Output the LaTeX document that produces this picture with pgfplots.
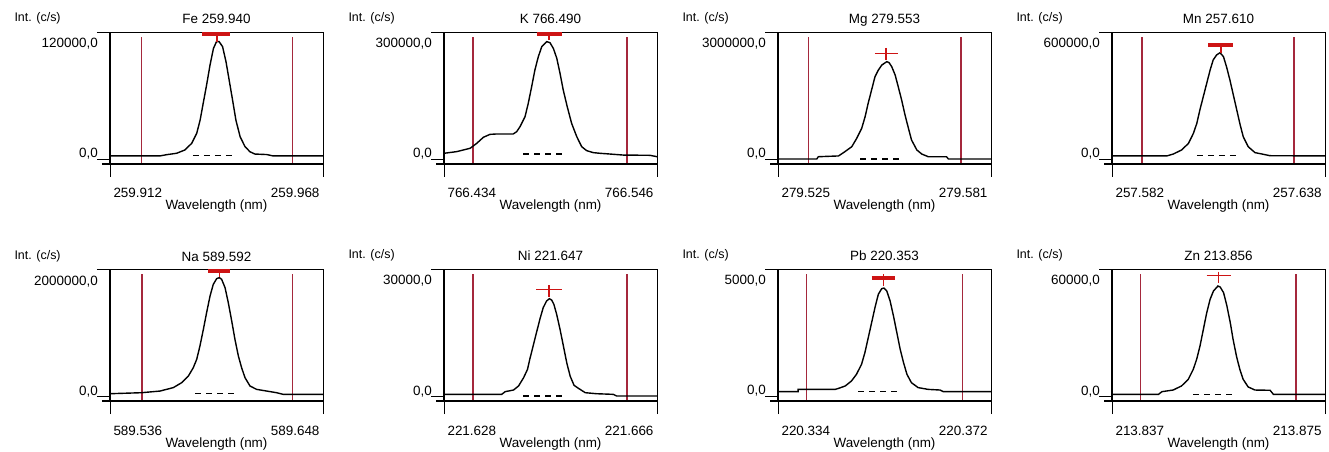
\documentclass[border=0pt]{standalone}
\usepackage{fontspec}
\setmainfont{Liberation Sans}
\usepackage{pgfplots}
\pgfplotsset{compat=1.18}
\definecolor{limred}{RGB}{165,40,60}
\definecolor{mkred}{RGB}{205,20,20}

% x is the offset from the line centre in pm, labels give the wavelength in nm
\pgfplotsset{
  panel/.style={
    scale only axis, width=213bp, height=132bp, anchor=south west,
    clip=false, scaled ticks=false,
    axis line style={line width=0.8bp},
    tick pos=left, tick align=outside, major tick length=13bp,
    every tick/.style={black, line width=0.9bp},
    font=\fontsize{13.5}{15}\selectfont,
    every axis title/.style={at={(0.5,1)}, anchor=base, yshift=8bp},
    every axis x label/.style={at={(0.5,0)}, anchor=base, yshift=-46bp},
    every axis y label/.style={at={(0,1)}, anchor=base west, xshift=-99bp, yshift=10bp, font=\fontsize{12.5}{14}\selectfont},
    xlabel={Wavelength (nm)}, ylabel={Int. (c/s)},
    xticklabel style={anchor=base west, yshift=-21bp},
    extra x tick style={xticklabel style={anchor=base east}},
    yticklabel style={inner sep=0pt, anchor=base east, xshift=1bp, yshift=1bp},
    extra y tick style={yticklabel style={yshift=-17bp}},
    ytick={0}, yticklabels={0{,}0},
    after end axis/.code={
      \draw[line width=2bp] ([xshift=-8bp]rel axis cs:0,0) -- (rel axis cs:1,0);
      \draw[line width=2bp] (rel axis cs:0,0) -- (rel axis cs:0,1);
    },
  },
  spec/.style={black, line width=1.4bp},
  lim/.style={limred, line width=1.8bp},
  bar/.style={mkred, line width=4bp},
  cross/.style={mkred, line width=1.6bp},
  base/.style={black, line width=1.1bp, dash pattern=on 6bp off 5bp},
}

\begin{document}
\begin{tikzpicture}
\useasboundingbox (0,0) rectangle (1329bp,452bp);

% ---------------- Fe 259.940
\begin{axis}[panel, at={(110bp,288bp)}, title={Fe 259.940},
  xmin=-28, xmax=28, ymin=-4724, ymax=120000,
  xtick={-28}, xticklabels={259.912}, extra x ticks={28}, extra x tick labels={259.968},
  extra y ticks={120000}, extra y tick labels={120000{,}0}]
\addplot[lim] coordinates {(-19.7,-4724)(-19.7,115200)};
\addplot[lim] coordinates {(20.0,-4724)(20.0,115200)};
\addplot[spec] coordinates {(-28,2880)(-14.9,2880)(-13.1,4080)(-10.5,5400)(-8.3,8520)(-6.5,14880)(-5.2,24240)(-4.3,36840)(-3.5,52560)(-2.6,69960)(-1.7,88800)(-0.8,104520)(0.0,110880)(0.7,110880)(1.6,106080)(2.5,91920)(3.4,73080)(4.3,54120)(5.1,36840)(6.2,21120)(7.5,11640)(8.8,6840)(10.1,4680)(13.2,4200)(14.9,2880)(28,2880)};
\addplot[base] coordinates {(-6.2,2880)(4.3,2880)};
\addplot[bar] coordinates {(-3.8,118080)(3.6,118080)};
\addplot[cross] coordinates {(0.2,118080)(0.2,111000)};
\end{axis}

% ---------------- K 766.490
\begin{axis}[panel, at={(444bp,288bp)}, title={K 766.490},
  xmin=-56, xmax=56, ymin=-11811, ymax=300000,
  xtick={-56}, xticklabels={766.434}, extra x ticks={56}, extra x tick labels={766.546},
  extra y ticks={300000}, extra y tick labels={300000{,}0}]
\addplot[lim] coordinates {(-40.6,-11811)(-40.6,288000)};
\addplot[lim] coordinates {(40.1,-11811)(40.1,288000)};
\addplot[spec] coordinates {(-56,13500)(-49.3,17400)(-42.3,25200)(-38.8,36900)(-35.3,51300)(-31.8,58200)(-28.3,59100)(-19.6,59100)(-17.8,64500)(-16.0,76500)(-13.4,99900)(-11.7,131400)(-9.9,171000)(-8.2,210300)(-6.4,241800)(-4.6,265200)(-2.0,277200)(-0.3,274800)(1.5,261300)(3.3,237900)(5.0,202500)(6.7,162900)(8.8,123600)(11.1,84300)(13.8,52800)(16.4,29100)(19.0,19800)(22.5,15000)(26.0,13500)(31.3,11700)(38.3,9300)(52.3,8700)(56,5400)};
\addplot[base] coordinates {(-14.3,11700)(8.5,11700)};
\addplot[bar] coordinates {(-7.3,295200)(5.9,295200)};
\addplot[cross] coordinates {(-0.8,295200)(-0.8,280000)};
\end{axis}

% ---------------- Mg 279.553
\begin{axis}[panel, at={(778bp,288bp)}, title={Mg 279.553},
  xmin=-28, xmax=28, ymin=-118110, ymax=3000000,
  xtick={-28}, xticklabels={279.525}, extra x ticks={28}, extra x tick labels={279.581},
  extra y ticks={3000000}, extra y tick labels={3000000{,}0}]
\addplot[lim] coordinates {(-20.0,-118110)(-20.0,2880000)};
\addplot[lim] coordinates {(20.1,-118110)(20.1,2880000)};
\addplot[spec] coordinates {(-28,0)(-17.8,0)(-17.4,54000)(-12.1,72000)(-10.4,174000)(-8.6,291000)(-7.3,489000)(-6.0,723000)(-5.1,999000)(-4.3,1314000)(-3.4,1629000)(-2.5,1944000)(-1.6,2103000)(-0.7,2220000)(0.6,2298000)(1.2,2277000)(1.9,2181000)(2.8,1983000)(3.6,1710000)(4.5,1395000)(5.4,1038000)(6.3,723000)(7.1,450000)(8.5,213000)(9.8,117000)(11.5,54000)(16.3,54000)(16.8,0)(28,0)};
\addplot[base] coordinates {(-6.4,0)(4.5,0)};
\addplot[cross] coordinates {(-2.5,2496000)(3.6,2496000)};
\addplot[cross] coordinates {(0.4,2622000)(0.4,2340000)};
\end{axis}

% ---------------- Mn 257.610
\begin{axis}[panel, at={(1112bp,288bp)}, title={Mn 257.610},
  xmin=-28, xmax=28, ymin=-23622, ymax=600000,
  xtick={-28}, xticklabels={257.582}, extra x ticks={28}, extra x tick labels={257.638},
  extra y ticks={600000}, extra y tick labels={600000{,}0}]
\addplot[lim] coordinates {(-20.2,-23622)(-20.2,576000)};
\addplot[lim] coordinates {(19.8,-23622)(19.8,576000)};
\addplot[spec] coordinates {(-28,14400)(-13.6,14400)(-11.9,23400)(-9.7,42600)(-7.9,73800)(-6.6,121200)(-5.7,168600)(-4.9,231600)(-4.0,294600)(-3.1,357600)(-2.2,420600)(-1.4,468000)(-0.5,491400)(0.4,502200)(1.3,483600)(2.1,436200)(3.0,373200)(3.9,302400)(4.8,231600)(5.7,160800)(6.5,105600)(7.8,58200)(9.6,30000)(11.8,22200)(13.5,15600)(28,14400)};
\addplot[base] coordinates {(-5.7,14400)(5.5,14400)};
\addplot[bar] coordinates {(-2.7,538800)(3.9,538800)};
\addplot[cross] coordinates {(0.6,546600)(0.6,502200)};
\end{axis}

% ---------------- Na 589.592
\begin{axis}[panel, at={(110bp,51bp)}, title={Na 589.592},
  xmin=-56, xmax=56, ymin=-78740, ymax=2000000,
  xtick={-56}, xticklabels={589.536}, extra x ticks={56}, extra x tick labels={589.648},
  extra y ticks={2000000}, extra y tick labels={2000000{,}0}]
\addplot[lim] coordinates {(-39.3,-78740)(-39.3,1920000)};
\addplot[lim] coordinates {(40.0,-78740)(40.0,1920000)};
\addplot[spec] coordinates {(-56,36000)(-39.3,52000)(-29.7,78000)(-22.7,132000)(-18.3,210000)(-14.8,314000)(-12.2,446000)(-10.4,578000)(-8.7,788000)(-6.9,1050000)(-5.2,1312000)(-3.4,1574000)(-1.7,1758000)(0.1,1848000)(1.5,1864000)(2.7,1838000)(4.5,1706000)(6.2,1470000)(8.0,1182000)(9.7,892000)(11.5,630000)(13.2,446000)(15.0,288000)(17.6,158000)(21.1,104000)(26.4,78000)(31.6,52000)(35.1,26000)(56,26000)};
\addplot[base] coordinates {(-11.3,36000)(10.6,36000)};
\addplot[bar] coordinates {(-4.3,1968000)(7.1,1968000)};
\addplot[cross] coordinates {(1.5,1968000)(1.5,1880000)};
\end{axis}

% ---------------- Ni 221.647
\begin{axis}[panel, at={(444bp,51bp)}, title={Ni 221.647},
  xmin=-19, xmax=19, ymin=-1181, ymax=30000,
  xtick={-19}, xticklabels={221.628}, extra x ticks={19}, extra x tick labels={221.666},
  extra y ticks={30000}, extra y tick labels={30000{,}0}]
\addplot[lim] coordinates {(-13.8,-1181)(-13.8,28800)};
\addplot[lim] coordinates {(13.6,-1181)(13.6,28800)};
\addplot[spec] coordinates {(-19,390)(-8.7,390)(-8.1,1020)(-6.6,1410)(-5.7,2370)(-4.8,4320)(-4.1,6300)(-3.7,8670)(-3.1,11820)(-2.5,14970)(-1.9,18120)(-1.3,20880)(-0.7,22440)(-0.2,22980)(0.2,22680)(0.6,21660)(1.1,19290)(1.7,15750)(2.3,11820)(2.9,7860)(3.5,4710)(4.2,2520)(5.0,1800)(6.2,780)(8.2,540)(11.2,390)(11.8,0)(19,0)};
\addplot[base] coordinates {(-4.9,0)(2.9,0)};
\addplot[cross] coordinates {(-2.5,25200)(2.0,25200)};
\addplot[cross] coordinates {(-0.3,26130)(-0.3,23460)};
\end{axis}

% ---------------- Pb 220.353
\begin{axis}[panel, at={(778bp,51bp)}, title={Pb 220.353},
  xmin=-19, xmax=19, ymin=-197, ymax=5000,
  xtick={-19}, xticklabels={220.334}, extra x ticks={19}, extra x tick labels={220.372},
  extra y ticks={5000}, extra y tick labels={5000{,}0}]
\addplot[lim] coordinates {(-13.9,-197)(-13.9,4800)};
\addplot[lim] coordinates {(13.9,-197)(13.9,4800)};
\addplot[spec] coordinates {(-19,170)(-15.4,170)(-15.4,260)(-8.8,260)(-8.2,300)(-7.0,395)(-5.9,590)(-5.0,855)(-4.1,1245)(-3.5,1705)(-2.9,2295)(-2.3,2885)(-1.7,3480)(-1.1,4005)(-0.5,4225)(-0.1,4250)(0.4,4135)(1.0,3740)(1.6,3150)(2.2,2495)(2.8,1835)(3.4,1310)(4.0,855)(4.8,525)(6.0,330)(7.8,260)(9.9,235)(10.5,170)(19,170)};
\addplot[base] coordinates {(-4.7,170)(2.8,170)};
\addplot[bar] coordinates {(-2.3,4660)(1.9,4660)};
\addplot[cross] coordinates {(-0.2,4790)(-0.2,4330)};
\end{axis}

% ---------------- Zn 213.856
\begin{axis}[panel, at={(1112bp,51bp)}, title={Zn 213.856},
  xmin=-19, xmax=19, ymin=-2362, ymax=60000,
  xtick={-19}, xticklabels={213.837}, extra x ticks={19}, extra x tick labels={213.875},
  extra y ticks={60000}, extra y tick labels={60000{,}0}]
\addplot[lim] coordinates {(-13.9,-2362)(-13.9,57600)};
\addplot[lim] coordinates {(13.8,-2362)(13.8,57600)};
\addplot[spec] coordinates {(-19,780)(-10.7,780)(-10.1,2040)(-8.1,2820)(-6.6,4740)(-5.4,7860)(-4.5,12600)(-3.9,17340)(-3.3,23640)(-2.7,31500)(-2.1,39360)(-1.5,45660)(-0.9,49620)(-0.1,51960)(0.3,51480)(0.9,48840)(1.5,42540)(2.1,34620)(2.6,26760)(3.2,18900)(3.8,12600)(4.4,7860)(5.3,4260)(6.5,2820)(9.2,2700)(9.8,780)(19,780)};
\addplot[base] coordinates {(-4.5,780)(3.1,780)};
\addplot[cross] coordinates {(-2.1,57000)(2.2,57000)};
\addplot[cross] coordinates {(0.0,58740)(0.0,53520)};
\end{axis}
\end{tikzpicture}
\end{document}
